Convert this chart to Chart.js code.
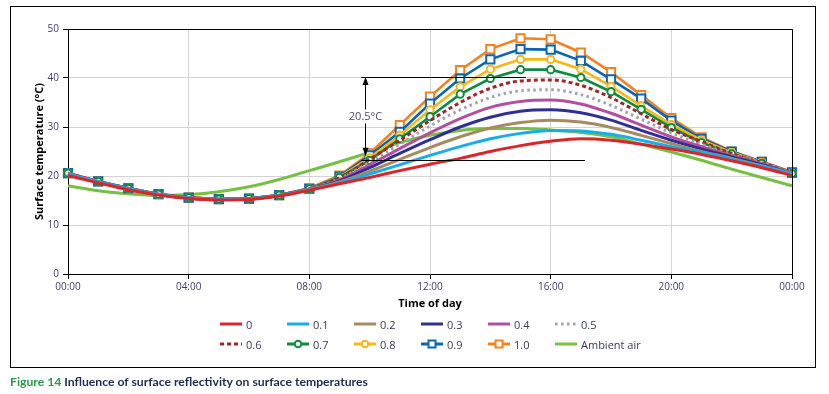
<!DOCTYPE html>
<html>
<head>
<meta charset="utf-8">
<script src="https://cdn.jsdelivr.net/npm/chart.js@4/dist/chart.umd.min.js"></script>
<style>
  html, body { margin: 0; padding: 0; background: #fff; }
  #wrap { position: relative; width: 829px; height: 394px; overflow: hidden; font-family: 'Open Sans', sans-serif; }
  #chart { position: absolute; left: 0; top: 0; }
  #frame { position: absolute; left: 10px; top: 6px; width: 804px; height: 360px; border: 1px solid #000; pointer-events: none; }
  #legend { position: absolute; left: 220px; top: 314px; display: grid; grid-template-columns: repeat(6, 67px); grid-auto-rows: 20px; font-size: 11px; color: #3a3a55; }
  #legend div { display: flex; align-items: center; white-space: nowrap; }
  #legend svg { margin-right: 4px; flex: none; }
  #caption { position: absolute; left: 10px; top: 374px; font-family: 'Lato', sans-serif; font-weight: bold; font-size: 12.2px; color: #1d2b4f; white-space: nowrap; }
  #caption span { color: #2a9a47; }
</style>
</head>
<body>
<div id="wrap">
  <canvas id="chart" width="829" height="394"></canvas>
  <div id="frame"></div>
  <div id="legend"></div>
  <div id="caption"><span>Figure 14</span> Influence of surface reflectivity on surface temperatures</div>
</div>
<script>
// hourly time axis, 00:00 to 00:00 next day
const timeLabels = ['00:00','01:00','02:00','03:00','04:00','05:00','06:00','07:00','08:00','09:00','10:00','11:00','12:00',
  '13:00','14:00','15:00','16:00','17:00','18:00','19:00','20:00','21:00','22:00','23:00','00:00'];

// surface temperatures (deg C) for each reflectivity value
const r00 = [20.1,18.6,17.2,16.1,15.4,15.1,15.2,15.9,17.1,18.4,19.7,21.1,22.4,23.6,25.0,26.2,27.1,27.6,27.3,26.5,25.5,24.4,23.1,21.7,20.1];
const r01 = [20.3,18.8,17.4,16.2,15.5,15.2,15.3,16.0,17.2,18.6,20.4,22.3,24.2,26.0,27.6,28.7,29.3,29.2,28.5,27.3,26.0,24.8,23.4,22.0,20.4];
const r02 = [20.4,18.8,17.4,16.2,15.5,15.2,15.3,16.0,17.3,18.8,21.0,23.4,25.8,28.0,29.8,30.9,31.4,31.0,29.9,28.3,26.6,25.0,23.6,22.1,20.5];
const r03 = [20.4,18.8,17.4,16.2,15.5,15.2,15.3,16.0,17.3,19.0,21.7,24.6,27.4,30.0,32.0,33.2,33.5,32.9,31.4,29.3,27.3,25.5,23.9,22.3,20.5];
const r04 = [20.5,18.9,17.5,16.3,15.6,15.3,15.4,16.1,17.4,19.2,22.3,25.6,28.8,31.7,34.0,35.2,35.5,34.7,32.8,30.4,28.0,26.0,24.2,22.5,20.6];
const r05 = [20.5,18.9,17.5,16.3,15.6,15.3,15.4,16.1,17.4,19.4,22.8,26.5,30.2,33.5,36.0,37.4,37.6,36.6,34.4,31.6,28.8,26.5,24.4,22.6,20.6];
const r06 = [20.5,18.9,17.5,16.3,15.6,15.3,15.4,16.1,17.4,19.6,23.4,27.3,31.3,35.0,37.9,39.4,39.6,38.5,36.0,32.7,29.5,27.0,24.6,22.7,20.6];
const r07 = [20.6,18.9,17.5,16.3,15.6,15.3,15.4,16.1,17.4,19.7,23.2,27.6,32.1,36.7,39.9,41.7,41.7,40.1,37.2,33.6,29.9,26.8,24.5,22.6,20.5];
const r08 = [20.6,18.9,17.5,16.3,15.6,15.3,15.4,16.1,17.4,19.8,23.7,28.3,33.5,38.2,41.8,43.8,43.8,41.8,38.3,34.3,30.5,27.3,24.8,22.8,20.6];
const r09 = [20.6,18.9,17.5,16.3,15.6,15.3,15.4,16.1,17.4,19.9,24.2,29.0,34.8,39.9,43.8,45.9,45.8,43.5,39.7,35.8,31.3,27.6,25.0,22.9,20.7];
const r10 = [20.6,18.9,17.5,16.3,15.6,15.3,15.4,16.1,17.5,20.1,24.6,30.4,36.2,41.6,45.9,48.1,47.9,45.2,41.2,36.5,31.8,27.9,25.0,22.9,20.8];
const ambient = [18.0,17.0,16.4,16.0,16.2,16.8,17.8,19.3,21.1,22.9,24.8,26.8,28.3,29.3,29.7,29.7,29.4,28.9,28.0,26.5,24.9,23.2,21.4,19.7,18.0];

// 20.5 deg C span marker (temperatures and hours of the two guide lines)
const spanTemps = [40.3, 23.3];
const spanStart = [9.72, 9.72];
const spanEnd = [15.18, 17.14];
const spanLabel = '20.5°C';

const yTicks = [0, 10, 20, 30, 40, 50];

function smooth(label, data, color, extra) {
  return Object.assign({
    label: label, data: data, borderColor: color, backgroundColor: color,
    borderWidth: 3, pointRadius: 0, tension: 0.4, cubicInterpolationMode: 'monotone'
  }, extra || {});
}
function marked(label, data, color, style) {
  return {
    label: label, data: data, borderColor: color, backgroundColor: '#fff',
    borderWidth: 2.6, tension: 0, pointStyle: style,
    pointRadius: style === 'rect' ? 5.8 : 3.6, pointBorderWidth: 2,
    pointBorderColor: color, pointBackgroundColor: '#fff'
  };
}

const series = [
  smooth('0', r00, '#dc242b'),
  smooth('0.1', r01, '#16aee8'),
  smooth('0.2', r02, '#a68a62'),
  smooth('0.3', r03, '#2e3192'),
  smooth('0.4', r04, '#b44f9f'),
  smooth('0.5', r05, '#a3a3a3', { borderDash: [2.5, 3.5] }),
  smooth('0.6', r06, '#a1242a', { borderDash: [4, 3] }),
  marked('0.7', r07, '#0b8c3e', 'circle'),
  marked('0.8', r08, '#fbb616', 'circle'),
  marked('0.9', r09, '#0a66b2', 'rect'),
  marked('1.0', r10, '#f58220', 'rect'),
  smooth('Ambient air', ambient, '#76c043')
];

// plot box (top and right edges) plus the span annotation
const extras = {
  id: 'extras',
  afterDatasetsDraw(chart) {
    const { ctx, chartArea: a, scales: { x, y } } = chart;
    ctx.save();
    ctx.strokeStyle = '#000';
    ctx.lineWidth = 1;
    ctx.beginPath();
    ctx.moveTo(a.left, a.top + 0.5); ctx.lineTo(a.right + 0.5, a.top + 0.5);
    ctx.lineTo(a.right + 0.5, a.bottom);
    ctx.stroke();

    // guide lines
    ctx.beginPath();
    for (let i = 0; i < spanTemps.length; i++) {
      const py = Math.round(y.getPixelForValue(spanTemps[i])) + 0.5;
      ctx.moveTo(x.getPixelForValue(spanStart[i]), py);
      ctx.lineTo(x.getPixelForValue(spanEnd[i]), py);
    }
    ctx.stroke();
    // double arrow
    const ax = Math.round(x.getPixelForValue(spanStart[0] + 0.12)) + 0.5;
    const y1 = y.getPixelForValue(spanTemps[0]) + 0.5;
    const y2 = y.getPixelForValue(spanTemps[1]) - 4;
    ctx.beginPath(); ctx.moveTo(ax, y1 + 6); ctx.lineTo(ax, y2 - 6); ctx.stroke();
    ctx.fillStyle = '#000';
    ctx.beginPath(); ctx.moveTo(ax, y1); ctx.lineTo(ax - 3, y1 + 8); ctx.lineTo(ax + 3, y1 + 8); ctx.closePath(); ctx.fill();
    ctx.beginPath(); ctx.moveTo(ax, y2); ctx.lineTo(ax - 3, y2 - 8); ctx.lineTo(ax + 3, y2 - 8); ctx.closePath(); ctx.fill();
    // label on white patch
    const ty = (y1 + y2) / 2;
    ctx.font = '11px "Open Sans"';
    const tw = ctx.measureText(spanLabel).width;
    ctx.fillStyle = '#fff';
    ctx.fillRect(ax - tw / 2 - 1, ty - 7, tw + 2, 14);
    ctx.fillStyle = '#4a4a68';
    ctx.textAlign = 'center';
    ctx.textBaseline = 'middle';
    ctx.fillText(spanLabel, ax, ty);
    ctx.restore();
  }
};

new Chart(document.getElementById('chart'), {
  type: 'line',
  data: { labels: timeLabels, datasets: series },
  plugins: [extras],
  options: {
    responsive: false,
    animation: false,
    layout: { padding: { left: 10, right: 37, top: 29, bottom: 80 } },
    plugins: { legend: { display: false }, tooltip: { enabled: false } },
    scales: {
      x: {
        grid: { color: '#d3d3d3', tickColor: '#000', tickLength: 5 },
        border: { color: '#000', width: 1 },
        ticks: {
          autoSkip: false, maxRotation: 0, padding: 2,
          color: '#3c3c66', font: { family: 'Open Sans', size: 10 },
          callback: function (v, i) { return i % 4 === 0 ? timeLabels[i] : null; }
        },
        title: { display: true, text: 'Time of day', color: '#000',
          font: { family: 'Open Sans', size: 11, weight: 'bold' }, padding: { top: 0, bottom: 4 } },
        afterFit: function (s) { s.height = 40; }
      },
      y: {
        min: 0, max: 50,
        afterBuildTicks: function (s) { s.ticks = yTicks.map(v => ({ value: v })); },
        grid: { color: '#d3d3d3', tickColor: '#000', tickLength: 5 },
        border: { color: '#000', width: 1 },
        ticks: { padding: 4, color: '#3c3c66', font: { family: 'Open Sans', size: 10 } },
        title: { display: true, text: 'Surface temperature (°C)', color: '#000',
          font: { family: 'Open Sans', size: 11, weight: 'bold' }, padding: { top: 23, bottom: 0 } },
        afterFit: function (s) { s.width = 58; }
      }
    }
  }
});

// legend laid out as a 6 x 2 grid like the figure
const legendEl = document.getElementById('legend');
series.forEach(function (ds) {
  const c = ds.borderColor;
  let mark = '';
  let dash = ds.borderDash ? ' stroke-dasharray="' + ds.borderDash.join(' ') + '"' : '';
  if (ds.pointStyle === 'circle') mark = '<circle cx="11" cy="5" r="3.3" fill="#fff" stroke="' + c + '" stroke-width="2"/>';
  if (ds.pointStyle === 'rect') mark = '<rect x="7.5" y="1.5" width="7" height="7" fill="#fff" stroke="' + c + '" stroke-width="2"/>';
  const item = document.createElement('div');
  item.innerHTML = '<svg width="22" height="10"><line x1="0" y1="5" x2="22" y2="5" stroke="' + c + '" stroke-width="3"' + dash + '/>' + mark + '</svg>' + ds.label;
  legendEl.appendChild(item);
});
</script>
</body>
</html>
